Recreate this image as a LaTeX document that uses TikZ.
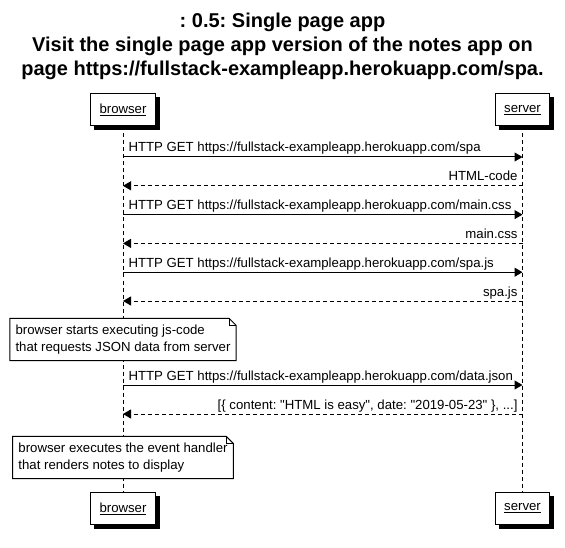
\documentclass[tikz,border=0pt]{standalone}
\usepackage{fontspec}
\setmainfont{Liberation Sans}
\usetikzlibrary{arrows.meta,calc,backgrounds}
\newcommand\strq{\XeTeXglyph\XeTeXcharglyph"22\relax}
\begin{document}
\frenchspacing
\begin{tikzpicture}[x=1pt,y=-1pt,
  actor/.style={draw,fill=white,line width=1pt,minimum height=32pt,inner xsep=9pt,
    font=\fontsize{13.2}{15}\selectfont},
  shadowbox/.style={fill=black},
  msg/.style={-{Triangle[length=8pt,width=9pt]},line width=1pt},
  ret/.style={msg,dash pattern=on 4pt off 3pt},
  life/.style={line width=1pt,dash pattern=on 4pt off 3pt},
  lbl/.style={font=\fontsize{13.2}{15}\selectfont,inner sep=0pt},
  notetext/.style={font=\fontsize{13.2}{17.5}\selectfont,align=left,inner xsep=5.5pt,inner ysep=6pt},
  notebox/.style={draw,fill=white,line width=1pt}
]
\useasboundingbox (0,0) rectangle (565,548);

% title
\node[font=\bfseries\fontsize{20}{24}\selectfont,align=center,anchor=north,inner sep=0pt] (title) at (282.5,12.5)
  {: 0.5: Single page app\\Visit the single page app version of the notes app on\\page https://fullstack-exampleapp.herokuapp.com/spa.};

% actors
\node[actor] (btop) at (123,110) {\underline{browser}};
\node[actor] (stop) at (522.5,110) {\underline{server}};
\node[actor] (bbot) at (123,508.5) {\underline{browser}};
\node[actor] (sbot) at (522.5,508.5) {\underline{server}};

% message coordinates
\foreach \n/\y in {1/157,2/185.8,3/214.6,4/243.4,5/272.2,6/301,7/385,8/414}{
  \coordinate (b\n) at (123,\y);
  \coordinate (s\n) at (522.5,\y);
}

\draw[msg] (b1) -- (s1) node[lbl,pos=0,anchor=base west,xshift=5pt,yshift=5pt] (m1) {HTTP GET https://fullstack-exampleapp.herokuapp.com/spa};
\draw[ret] (s2) -- (b2) node[lbl,pos=0,anchor=base east,xshift=-4.5pt,yshift=5pt] (m2) {HTML-code};
\draw[msg] (b3) -- (s3) node[lbl,pos=0,anchor=base west,xshift=5pt,yshift=5pt] (m3) {HTTP GET https://fullstack-exampleapp.herokuapp.com/main.css};
\draw[ret] (s4) -- (b4) node[lbl,pos=0,anchor=base east,xshift=-4.5pt,yshift=5pt] (m4) {main.css};
\draw[msg] (b5) -- (s5) node[lbl,pos=0,anchor=base west,xshift=5pt,yshift=5pt] (m5) {HTTP GET https://fullstack-exampleapp.herokuapp.com/spa.js};
\draw[ret] (s6) -- (b6) node[lbl,pos=0,anchor=base east,xshift=-4.5pt,yshift=5pt] (m6) {spa.js};
\draw[msg] (b7) -- (s7) node[lbl,pos=0,anchor=base west,xshift=5pt,yshift=5pt] (m7) {HTTP GET https://fullstack-exampleapp.herokuapp.com/data.json};
\draw[ret] (s8) -- (b8) node[lbl,pos=0,anchor=base east,xshift=-4.5pt,yshift=5pt] (m8) {[\{ content: \strq HTML is easy\strq, date: \strq 2019-05-23\strq\ \}, ...]};

% notes
\node[notetext] (n1) at (123,339.5) {browser starts executing js-code\\that requests JSON data from server};
\node[notetext] (n2) at (123,457.5) {browser executes the event handler\\that renders notes to display};

\begin{scope}[on background layer]
  % lifelines
  \draw[life] (btop.south) -- (bbot.north);
  \draw[life] (stop.south) -- (sbot.north);
  % actor shadows
  \foreach \a in {btop,stop,bbot,sbot}{
    \path[shadowbox] ($(\a.south west)+(4,4)$) rectangle ($(\a.north east)+(4,4)$);
  }
  % note outlines
  \foreach \nn in {n1,n2}{
    \draw[notebox] (\nn.north west) -- ([xshift=-7pt]\nn.north east) -- ([yshift=-7pt]\nn.north east) -- (\nn.south east) -- (\nn.south west) -- cycle;
    \draw[line width=1pt] ([xshift=-7pt]\nn.north east) |- ([yshift=-7pt]\nn.north east);
  }
\end{scope}
\end{tikzpicture}
\end{document}
